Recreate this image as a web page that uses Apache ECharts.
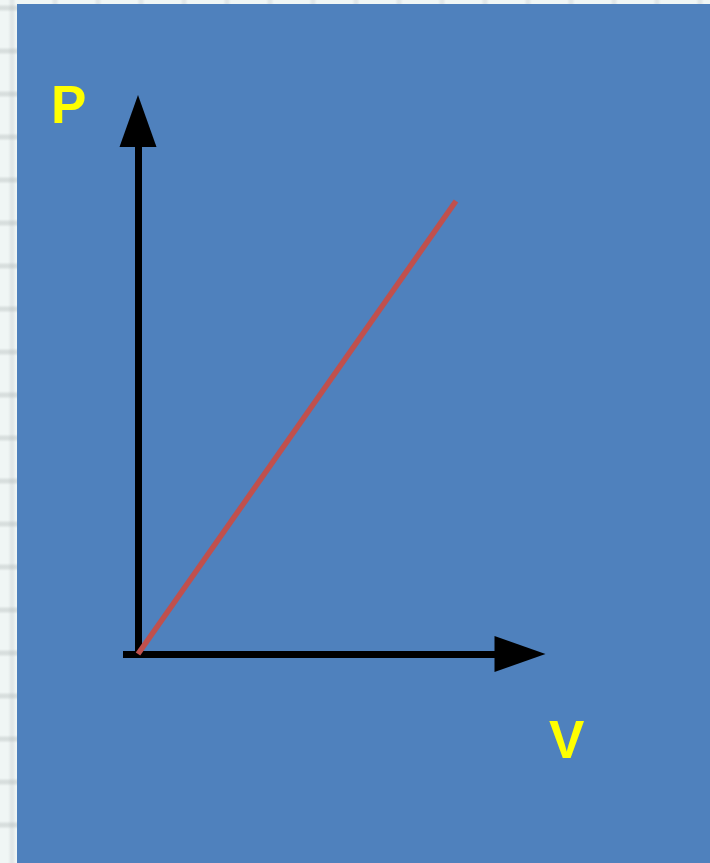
<!DOCTYPE html>
<html>
<head>
<meta charset="utf-8">
<script src="https://cdn.jsdelivr.net/npm/echarts@6/dist/echarts.min.js"></script>
<style>
  html, body { margin: 0; padding: 0; }
  body {
    width: 710px; height: 863px; overflow: hidden; position: relative;
    background-color: #f0f6f5;
    background-image:
      repeating-linear-gradient(to bottom, rgba(0,0,0,0) 0px, rgba(0,0,0,0) 4px, rgba(160,168,168,0.3) 7px, rgba(160,168,168,0.3) 9px, rgba(0,0,0,0) 12px, rgba(0,0,0,0) 43px),
      repeating-linear-gradient(to right, rgba(0,0,0,0) 0px, rgba(0,0,0,0) 8px, rgba(175,180,185,0.22) 11px, rgba(175,180,185,0.22) 13px, rgba(0,0,0,0) 16px, rgba(0,0,0,0) 43px);
  }
  #chart { position: absolute; left: 17px; top: 4px; width: 693px; height: 859px; }
</style>
</head>
<body>
<div id="chart"></div>
<script>
// Data (arbitrary units)
const volumeValues = [0, 10];     // V
const pressureValues = [0, 10];   // P
const axisNames = ['V', 'P'];

const xRange = [-0.4717, 12.013];
const yRange = [0, 11.766];

const chart = echarts.init(document.getElementById('chart'));
const seriesData = volumeValues.map((v, i) => [v, pressureValues[i]]);

chart.setOption({
  backgroundColor: '#4F81BD',
  animation: false,
  grid: { left: 106, right: 190, top: 117, bottom: 209, containLabel: false },
  xAxis: {
    type: 'value', min: xRange[0], max: xRange[1],
    axisLine: {
      show: true, onZero: false,
      lineStyle: { color: '#000', width: 7, cap: 'butt' },
      symbol: ['none', 'path://M18,0 L36,51 L0,51 Z'],
      symbolSize: [36, 51]
    },
    axisTick: { show: false }, axisLabel: { show: false }, splitLine: { show: false }
  },
  yAxis: {
    type: 'value', min: yRange[0], max: yRange[1],
    axisLine: {
      show: true, onZero: true,
      lineStyle: { color: '#000', width: 7, cap: 'butt' },
      symbol: ['none', 'path://M18.5,0 L37,52 L0,52 Z'],
      symbolSize: [37, 52]
    },
    axisTick: { show: false }, axisLabel: { show: false }, splitLine: { show: false }
  },
  graphic: [
    { type: 'text', left: 34, top: 78, style: { text: axisNames[1], fill: '#FFFF00', font: 'bold 53px "Liberation Sans", Arial, sans-serif' } },
    { type: 'text', left: 532, top: 713, style: { text: axisNames[0], fill: '#FFFF00', font: 'bold 53px "Liberation Sans", Arial, sans-serif' } }
  ],
  series: [{
    type: 'line',
    data: seriesData,
    symbol: 'none',
    lineStyle: { color: '#C0504D', width: 5.5, cap: 'butt' },
    z: 1
  }]
});
</script>
</body>
</html>
